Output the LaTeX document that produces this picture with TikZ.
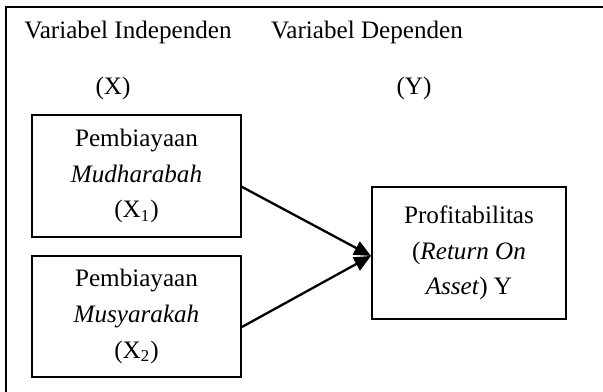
\documentclass[tikz,border=0pt]{standalone}
\usepackage{fontspec}
\setmainfont{Liberation Serif}
\usepackage{tikz}
\usetikzlibrary{arrows.meta}
\tikzset{%
    varbox/.style={draw,line width=0.95pt,align=center,inner sep=0pt,
        font=\fontsize{12}{17}\selectfont},
    lbl/.style={font=\fontsize{12}{14}\selectfont,inner sep=0pt},
    arr/.style={line width=1.1pt,-{Triangle[length=8pt,width=7pt]}}
}

\begin{document}
\begin{tikzpicture}[x=0.4776pt,y=-0.4776pt]
    \useasboundingbox (0,0) rectangle (603,392);
    % frame, only left and top edge are on the page
    \draw[line width=1pt] (6,392) -- (6,7) -- (603,7);
    %
    \node[lbl] (vi) at (128,32) {Variabel Independen};
    \node[lbl] (vd) at (367,32) {Variabel Dependen};
    \node[lbl] (lx) at (113,88) {(X)};
    \node[lbl] (ly) at (414,88) {(Y)};
    %
    \node[varbox,minimum width=99.8pt,minimum height=58.3pt] (m1) at (136.5,176)
      {Pembiayaan\\ \textit{Mudharabah}\\ (X\textsubscript{1})};
    \node[varbox,minimum width=99.8pt,minimum height=57.8pt] (m2) at (136.5,316.5)
      {Pembiayaan\\ \textit{Musyarakah}\\ (X\textsubscript{2})};
    \node[varbox,minimum width=92.7pt,minimum height=63pt] (roa) at (469,253)
      {Profitabilitas\\ (\textit{Return On}\\ \textit{Asset}) Y};
    %
    \draw[arr] ([yshift=-5.2pt]m1.east) -- ([yshift=-1.4pt]roa.west);
    \draw[arr] ([yshift=-5pt]m2.east) -- ([yshift=-1.4pt]roa.west);
\end{tikzpicture}
\end{document}
